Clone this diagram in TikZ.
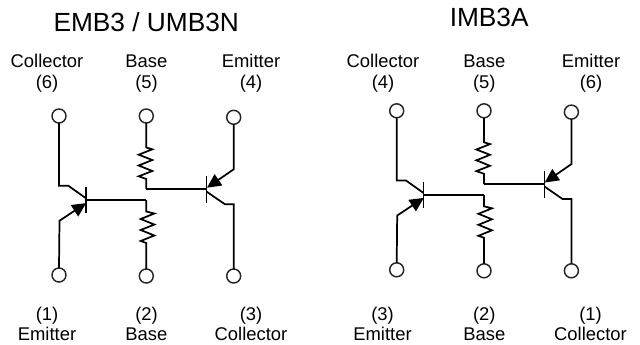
\documentclass[tikz,border=0pt]{standalone}
\usepackage{fontspec}
\setmainfont{Liberation Sans}
\usetikzlibrary{arrows.meta}
\tikzset{
  terminal/.style={circle,draw=black!85,line width=1.1pt,fill=white,minimum size=10.5pt,inner sep=0pt,outer sep=0pt},
  wire/.style={line width=1.3pt,line join=miter,color=black},
  bar/.style={line width=1.05pt,color=black},
  emit/.style={wire,-{Triangle[length=10.5pt,width=10pt]},shorten >=-0.3pt},
  lbl/.style={anchor=base,inner sep=0pt,font=\fontsize{13.8}{16}\selectfont},
  ttl/.style={anchor=base,inner sep=0pt,font=\fontsize{19.7}{23}\selectfont}
}
\newcommand{\dualcircuit}[3]{%
\begin{scope}[shift={(#2,#3)},name prefix=#1-]
  % terminals
  \node[terminal] (c1) at (59,116) {};
  \node[terminal] (b1) at (146.3,116) {};
  \node[terminal] (e2) at (233.7,117.3) {};
  \node[terminal] (e1) at (59,275) {};
  \node[terminal] (b2) at (146.3,276) {};
  \node[terminal] (c2) at (233.7,276) {};
  % junctions
  \coordinate (q1) at (86,200);
  \coordinate (q2) at (206.7,189.2);
  \coordinate (j1) at (146.3,200);
  \coordinate (j2) at (146.3,189.2);
  % transistor bars
  \draw[bar] (86,186.7) -- (86,213.3);
  \draw[bar] (206.7,176) -- (206.7,203.3);
  % left transistor
  \draw[wire] (c1.south) -- (59,185.7) -- (68.3,185.7) -- (86,198.3);
  \draw[emit] (e1.north) -- (59.5,220.7) -- (85.8,203.3);
  \draw[wire] (q1) -- (j1);
  % lower resistor
  \draw[wire] (j1) -- (146.3,211.5) -- (154.3,213.5) -- (140.7,219) -- (154.3,224.5)
     -- (140.7,230) -- (154.3,235.5) -- (140.7,241) -- (146.3,243) -- (b2.north);
  % upper resistor
  \draw[wire] (b1.south) -- (146.3,147.5) -- (152.3,149.3) -- (138.7,154.7) -- (152.3,160)
     -- (138.7,165.5) -- (152.3,171) -- (138.7,176.3) -- (146.3,179) -- (j2);
  % right transistor
  \draw[wire] (j2) -- (q2);
  \draw[emit] (e2.south) -- (233.7,169.3) -- (207.3,187.5);
  \draw[wire] (206.7,191.7) -- (225,204.3) -- (233.7,204.3) -- (c2.north);
\end{scope}}
\begin{document}
\begin{tikzpicture}[x=0.75pt,y=-0.75pt]
\useasboundingbox (0,0) rectangle (640,344);
\dualcircuit{l}{0}{0}
\dualcircuit{r}{337.7}{-5.2}
% titles
\node[ttl] (t1) at (146.2,31) {EMB3 / UMB3N};
\node[ttl] (t2) at (489.2,26.7) {IMB3A};
% top labels left
\node[lbl] (a1) at (47,67.5) {Collector};
\node[lbl] (a2) at (146.3,67.5) {Base};
\node[lbl] (a3) at (251,67.5) {Emitter};
\node[lbl] (a4) at (47,88.3) {(6)};
\node[lbl] (a5) at (146.5,88.3) {(5)};
\node[lbl] (a6) at (251,88.3) {(4)};
% bottom labels left
\node[lbl] (a7) at (47,320) {(1)};
\node[lbl] (a8) at (146.5,320) {(2)};
\node[lbl] (a9) at (251,320) {(3)};
\node[lbl] (a10) at (47,340) {Emitter};
\node[lbl] (a11) at (146.3,340) {Base};
\node[lbl] (a12) at (251,340) {Collector};
% top labels right
\node[lbl] (b1) at (383,67.5) {Collector};
\node[lbl] (b2) at (484.3,67.5) {Base};
\node[lbl] (b3) at (591,67.5) {Emitter};
\node[lbl] (b4) at (383,88.3) {(4)};
\node[lbl] (b5) at (484.3,88.3) {(5)};
\node[lbl] (b6) at (591,88.3) {(6)};
% bottom labels right
\node[lbl] (b7) at (382.5,320) {(3)};
\node[lbl] (b8) at (484.3,320) {(2)};
\node[lbl] (b9) at (590.5,320) {(1)};
\node[lbl] (b10) at (382.5,340) {Emitter};
\node[lbl] (b11) at (484.3,340) {Base};
\node[lbl] (b12) at (590.5,340) {Collector};
\end{tikzpicture}
\end{document}
